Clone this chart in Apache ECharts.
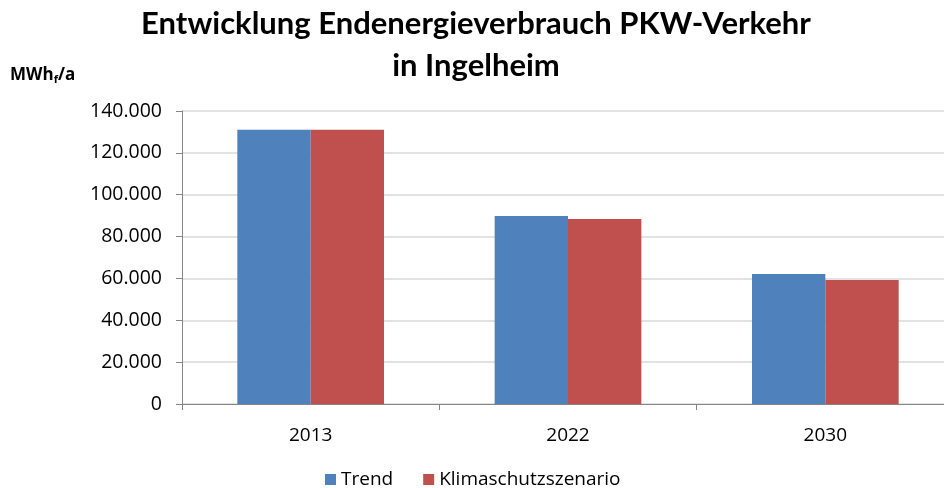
<!DOCTYPE html>
<html>
<head>
<meta charset="utf-8">
<script src="https://cdn.jsdelivr.net/npm/echarts@6/dist/echarts.min.js"></script>
<style>
html, body { margin: 0; padding: 0; background: #fff; overflow: hidden; }
#chart { width: 956px; height: 488px; }
</style>
</head>
<body>
<div id="chart"></div>
<script>
// the plot area runs past the right edge in the original, so the canvas is a bit wider than the window
const years = ['2013', '2022', '2030']
const trend = [131000, 89800, 62100]
const klima = [131000, 88400, 59200]
const seriesNames = ['Trend', 'Klimaschutzszenario']

const fmt = v => v === 0 ? '0' : v.toLocaleString('de-DE').replace(/,/g, '.')

const chart = echarts.init(document.getElementById('chart'))
chart.setOption({
    animation: false,
    textStyle: { fontFamily: 'Open Sans' },
    title: {
        text: 'Entwicklung Endenergieverbrauch PKW-Verkehr\nin Ingelheim',
        left: 471,
        textAlign: 'center',
        top: -2,
        textStyle: {
            fontFamily: 'Lato',
            fontWeight: 'bold',
            fontSize: 31,
            lineHeight: 42,
            color: '#000'
        }
    },
    graphic: [{
        type: 'text',
        left: 10,
        top: 67,
        style: {
            text: '{a|MWh}{s|f}{a|/a}',
            rich: {
                a: { fontFamily: 'Open Sans', fontWeight: 'bold', fontSize: 17, color: '#000' },
                s: { fontFamily: 'Open Sans', fontWeight: 'bold', fontSize: 11, color: '#000', padding: [9, 0, 0, 0] }
            }
        }
    }],
    legend: {
        data: seriesNames,
        top: 465,
        left: 320,
        itemWidth: 11,
        itemHeight: 11,
        itemGap: 30,
        icon: 'rect',
        textStyle: { fontFamily: 'Open Sans', fontSize: 19, color: '#000' }
    },
    grid: {
        left: 182,
        top: 111,
        right: 2,
        height: 293
    },
    xAxis: {
        type: 'category',
        data: years,
        axisLine: { lineStyle: { color: '#868686' } },
        axisTick: { show: true, length: 6, lineStyle: { color: '#868686' } },
        axisLabel: { fontSize: 19, color: '#000', margin: 22, fontFamily: 'Open Sans' }
    },
    yAxis: {
        type: 'value',
        min: 0,
        max: 140000,
        interval: 20000,
        axisLine: { show: true, lineStyle: { color: '#868686' } },
        axisTick: { show: true, length: 6, lineStyle: { color: '#868686' } },
        splitLine: { lineStyle: { color: '#d9d9d9', width: 1.5 } },
        axisLabel: {
            fontSize: 19.5,
            color: '#000',
            margin: 20,
            fontFamily: 'Open Sans',
            formatter: v => fmt(v)
        }
    },
    series: [
        {
            name: seriesNames[0],
            type: 'bar',
            data: trend,
            barGap: '0%',
            barCategoryGap: '43%',
            itemStyle: { color: '#4F81BD' }
        },
        {
            name: seriesNames[1],
            type: 'bar',
            data: klima,
            itemStyle: { color: '#C0504D' }
        }
    ]
})
</script>
</body>
</html>
